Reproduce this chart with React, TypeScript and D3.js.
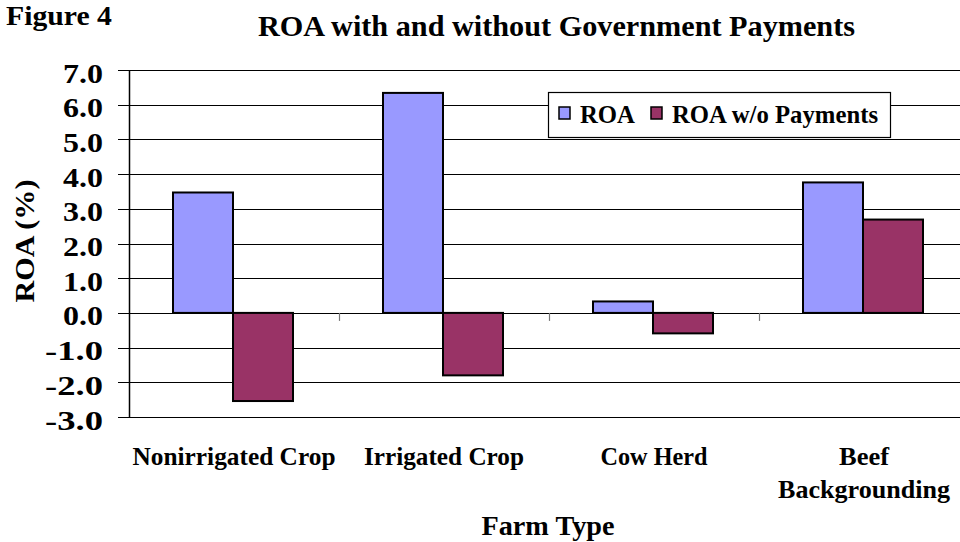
import React, { useEffect, useRef } from 'react';
import * as d3 from 'd3';

const categories = ['Nonirrigated Crop', 'Irrigated Crop', 'Cow Herd', 'Beef Backgrounding'];
const seriesNames = ['ROA', 'ROA w/o Payments'];
const roa = [3.47, 6.34, 0.33, 3.76];
const roaNoPay = [-2.54, -1.8, -0.59, 2.69];
const yTicks = [-3, -2, -1, 0, 1, 2, 3, 4, 5, 6, 7];
const colors = ['#9999ff', '#993366'];

const FONT = '"Liberation Serif", "Times New Roman", serif';

// widths of the category label lines as they appear in the figure
const labelWidths: Record<string, number> = {
  'Nonirrigated Crop': 203,
  'Irrigated Crop': 160,
  'Cow Herd': 107,
  'Beef': 50,
  'Backgrounding': 172
};

const App = () => {
  const svgRef = useRef<SVGSVGElement>(null);

  useEffect(() => {
    const width = 960;
    const height = 542;
    const margin = { top: 70, right: -9, bottom: 125, left: 129 };
    const innerWidth = width - margin.left - margin.right;
    const innerHeight = height - margin.top - margin.bottom;

    const svg = d3.select(svgRef.current);
    svg.selectAll('*').remove();
    svg.attr('width', width).attr('height', height);

    svg.append('rect').attr('width', width).attr('height', height).attr('fill', '#fff');

    const chart = svg.append('g').attr('transform', `translate(${margin.left},${margin.top})`);

    const x = d3.scaleBand<string>().domain(categories).range([0, innerWidth]);
    const xInner = d3.scaleBand<string>().domain(seriesNames).range([44, x.bandwidth() - 46]);
    const y = d3.scaleLinear().domain([-3, 7]).range([innerHeight, 0]);

    // gridlines
    chart.append('g')
      .selectAll('line')
      .data(yTicks)
      .enter()
      .append('line')
      .attr('x1', -11)
      .attr('x2', innerWidth)
      .attr('y1', d => Math.round(y(d)) + 0.5)
      .attr('y2', d => Math.round(y(d)) + 0.5)
      .attr('stroke', '#000')
      .attr('stroke-width', 1.2);

    // y axis line
    chart.append('line')
      .attr('x1', 0.5).attr('x2', 0.5)
      .attr('y1', 0).attr('y2', innerHeight)
      .attr('stroke', '#000')
      .attr('stroke-width', 1.5);

    // y tick labels
    chart.append('g')
      .selectAll('text')
      .data(yTicks)
      .enter()
      .append('text')
      .attr('x', -26)
      .attr('y', d => y(d) + 12.5)
      .attr('text-anchor', 'end')
      .attr('font-family', FONT)
      .attr('font-weight', 'bold')
      .attr('font-size', '27px')
      .attr('textLength', d => (d < 0 ? 58 : 40))
      .attr('lengthAdjust', 'spacingAndGlyphs')
      .text(d => d.toFixed(1));

    // category ticks on zero line
    chart.append('g')
      .selectAll('line')
      .data(categories.slice(1))
      .enter()
      .append('line')
      .attr('x1', d => (x(d) as number) + 0.5)
      .attr('x2', d => (x(d) as number) + 0.5)
      .attr('y1', y(0))
      .attr('y2', y(0) + 8)
      .attr('stroke', '#777')
      .attr('stroke-width', 1.2);

    // bars
    const rows = categories.map((c, i) => ({ cat: c, vals: [roa[i], roaNoPay[i]] }));
    const groups = chart.selectAll('g.grp')
      .data(rows)
      .enter()
      .append('g')
      .attr('class', 'grp')
      .attr('transform', d => `translate(${x(d.cat)},0)`);

    groups.selectAll('rect')
      .data(d => d.vals.map((v, j) => ({ v, s: seriesNames[j], j })))
      .enter()
      .append('rect')
      .attr('x', d => xInner(d.s) as number)
      .attr('width', xInner.bandwidth())
      .attr('y', d => y(Math.max(0, d.v)))
      .attr('height', d => Math.abs(y(d.v) - y(0)))
      .attr('fill', d => colors[d.j])
      .attr('stroke', '#000')
      .attr('stroke-width', 2);

    // category labels
    const labelG = svg.append('g');
    categories.forEach(c => {
      const cx = margin.left + (x(c) as number) + x.bandwidth() / 2;
      const lines = c === 'Beef Backgrounding' ? ['Beef', 'Backgrounding'] : [c];
      lines.forEach((ln, k) => {
        labelG.append('text')
          .attr('x', cx)
          .attr('y', 465 + k * 33)
          .attr('text-anchor', 'middle')
          .attr('font-family', FONT)
          .attr('font-weight', 'bold')
          .attr('font-size', '25px')
          .attr('textLength', labelWidths[ln])
          .attr('lengthAdjust', 'spacingAndGlyphs')
          .text(ln);
      });
    });

    // axis titles
    svg.append('text')
      .attr('x', 548)
      .attr('y', 535)
      .attr('text-anchor', 'middle')
      .attr('font-family', FONT)
      .attr('font-weight', 'bold')
      .attr('font-size', '27px')
      .attr('textLength', 133)
      .attr('lengthAdjust', 'spacingAndGlyphs')
      .text('Farm Type');

    svg.append('text')
      .attr('transform', 'translate(34,241) rotate(-90)')
      .attr('text-anchor', 'middle')
      .attr('font-family', FONT)
      .attr('font-weight', 'bold')
      .attr('font-size', '27px')
      .attr('textLength', 123)
      .attr('lengthAdjust', 'spacingAndGlyphs')
      .text('ROA (%)');

    // titles
    svg.append('text')
      .attr('x', 6)
      .attr('y', 25)
      .attr('font-family', FONT)
      .attr('font-weight', 'bold')
      .attr('font-size', '27px')
      .attr('textLength', 106)
      .attr('lengthAdjust', 'spacingAndGlyphs')
      .text('Figure 4');

    svg.append('text')
      .attr('x', 258)
      .attr('y', 36)
      .attr('font-family', FONT)
      .attr('font-weight', 'bold')
      .attr('font-size', '30px')
      .attr('textLength', 597)
      .attr('lengthAdjust', 'spacingAndGlyphs')
      .text('ROA with and without Government Payments');

    // legend
    const legend = svg.append('g').attr('transform', 'translate(548,92)');
    legend.append('rect')
      .attr('x', 0.5).attr('y', 0.5)
      .attr('width', 342).attr('height', 45)
      .attr('fill', '#fff')
      .attr('stroke', '#000')
      .attr('stroke-width', 1.2);
    const legendX = [11, 103];
    const legendW = [55, 206];
    seriesNames.forEach((s, i) => {
      legend.append('rect')
        .attr('x', legendX[i]).attr('y', 15)
        .attr('width', 11).attr('height', 12)
        .attr('fill', colors[i])
        .attr('stroke', '#000')
        .attr('stroke-width', 1.5);
      legend.append('text')
        .attr('x', legendX[i] + 21)
        .attr('y', 31)
        .attr('font-family', FONT)
        .attr('font-weight', 'bold')
        .attr('font-size', '25px')
        .attr('textLength', legendW[i])
        .attr('lengthAdjust', 'spacingAndGlyphs')
        .text(s);
    });
  }, []);

  return <svg ref={svgRef} style={{ display: 'block', position: 'absolute', left: 0, top: 0 }}></svg>;
};

export default App;
